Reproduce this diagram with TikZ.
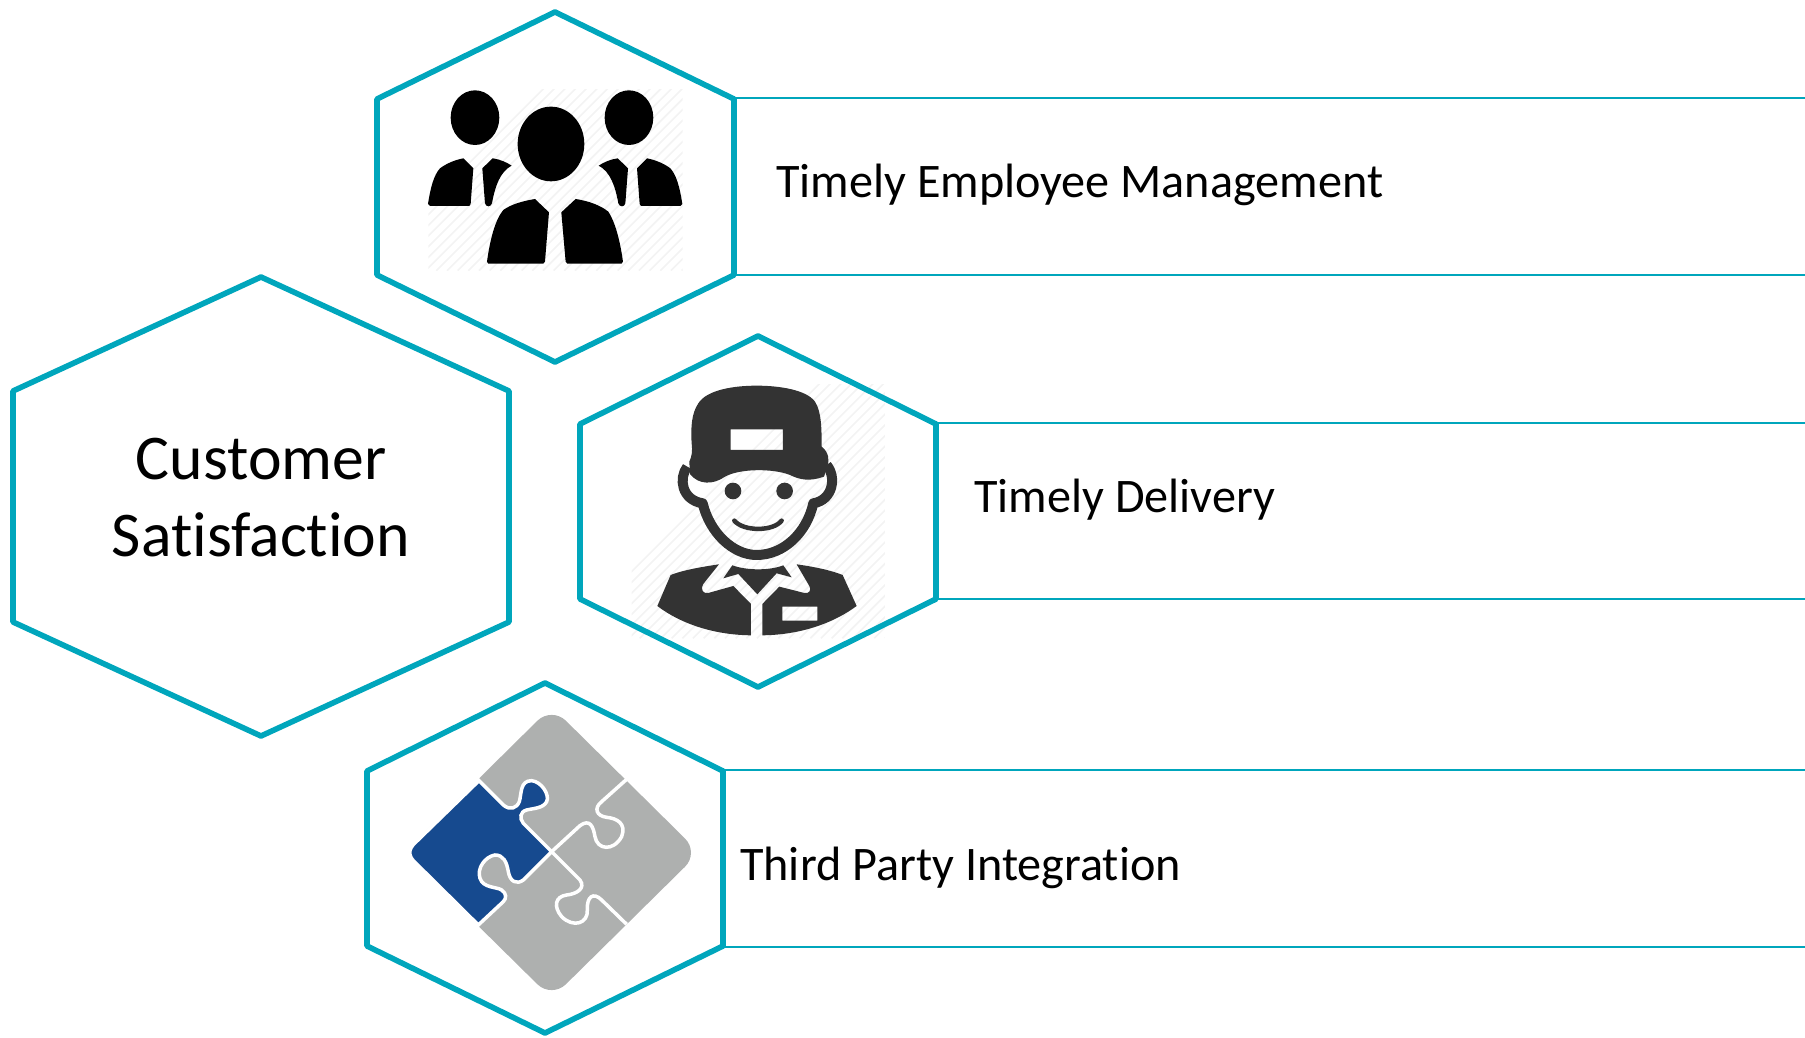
\documentclass[tikz,border=0pt]{standalone}
\usepackage{fontspec}
\setmainfont{Carlito}[Ligatures=NoCommon]
\definecolor{hexteal}{HTML}{00A6BC}
\definecolor{capgray}{HTML}{333333}
\definecolor{piecegray}{HTML}{AEB0AF}
\definecolor{pieceblue}{HTML}{164A8F}
\definecolor{hatchgray}{HTML}{F3F3F3}
\newcommand{\hatchbox}[4]{%
  \begin{scope}
    \clip (#1,#2) rectangle (#3,#4);
    \foreach \s in {0,32,...,1400} {
      \draw[hatchgray, line width=1.6pt] (#1-200+\s,#4) -- ++(800,-800);
    }
  \end{scope}}
\newcommand{\sidebody}{%
  \fill (204,612) .. controls (212,560) and (222,525) .. (240,505)
    .. controls (260,490) and (285,480) .. (310,475) -- (340,505) -- (332,612)
    -- (328,618) -- (210,618) -- cycle;
  \fill (367,505) -- (398,475) .. controls (420,478) and (440,487) .. (455,497)
    .. controls (420,515) and (405,560) .. (396,610)
    .. controls (392,622) and (378,622) .. (375,610) -- cycle;}
\begin{document}
\begin{tikzpicture}[x=1pt, y=-1pt,
    hexline/.style = {draw=hexteal, line width=5.6pt, line join=round},
    ruleline/.style = {draw=hexteal, line width=2pt},
    rowlabel/.style = {anchor=base west, inner sep=0pt, font=\fontsize{48.2}{50}\selectfont},
    iconpart/.style = {x=0.3333pt, y=-0.3333pt}]
  \useasboundingbox (0,0) rectangle (1805,1038);
  % people
  \begin{scope}[shift={(360,0)}, iconpart]
    \hatchbox{205}{268}{968}{812}
    \fill (345,353) ellipse [x radius=73, y radius=82];
    \fill (807,353) ellipse [x radius=73, y radius=82];
    \fill (573,432) ellipse [x radius=100, y radius=112];
    \sidebody
    \fill (381,785) .. controls (390,720) and (405,660) .. (430,630)
      .. controls (455,612) and (490,603) .. (525,597) -- (567,637) -- (555,785)
      -- (550,791) -- (385,791) -- cycle;
    \fill (604,637) -- (647,597) .. controls (685,603) and (720,615) .. (745,635)
      .. controls (765,665) and (780,720) .. (789,785) -- (785,791) -- (622,791)
      -- (617,785) -- cycle;
  \end{scope}
  \begin{scope}[shift={(750.33,0)}, iconpart, x=-0.3333pt]
    \sidebody
  \end{scope}
  % worker
  \begin{scope}[shift={(570,330)}, iconpart]
    \hatchbox{185}{165}{945}{925}
    \fill[capgray, even odd rule] (365,340) .. controls (362,290) and (365,250) .. (385,220)
      .. controls (410,180) and (490,167) .. (560,167)
      .. controls (630,167) and (710,180) .. (735,215)
      .. controls (755,245) and (755,300) .. (755,350)
      .. controls (775,365) and (780,390) .. (772,410) -- (762,440)
      .. controls (720,455) and (690,450) .. (660,435)
      .. controls (610,415) and (510,415) .. (465,440)
      .. controls (430,465) and (385,465) .. (360,432)
      -- (358,395) .. controls (365,380) and (368,365) .. (365,340) -- cycle
      (482,298) rectangle (639,360);
    \draw[capgray, line width=10pt, line join=round] (352,410) .. controls (325,445) and (335,510) .. (398,520)
      .. controls (420,610) and (490,675) .. (560,675)
      .. controls (640,675) and (710,610) .. (730,520)
      .. controls (790,510) and (800,440) .. (770,405);
    \fill[capgray] (489,483) circle [radius=25];
    \fill[capgray] (644,483) circle [radius=25];
    \draw[capgray, line width=4.5pt, line cap=round] (493,572) .. controls (520,605) and (610,605) .. (635,572);
    \fill[capgray] (262,828) -- (302,735) .. controls (340,720) and (400,710) .. (447,703)
      -- (400,762) .. controls (390,780) and (400,792) .. (415,789) -- (490,768)
      -- (543,822) -- (543,916) .. controls (430,915) and (330,880) .. (262,828) -- cycle;
    \fill[capgray, even odd rule] (577,916) -- (577,822) -- (628,770) -- (703,789)
      .. controls (718,792) and (725,780) .. (718,768) -- (680,703)
      .. controls (730,710) and (780,720) .. (818,735) -- (860,828)
      .. controls (790,880) and (690,915) .. (577,916) -- cycle
      (637,830) rectangle (742,872);
    \fill[capgray] (487,706) .. controls (530,722) and (600,722) .. (640,706) -- (665,742)
      -- (620,730) -- (562,793) -- (505,732) -- (460,745) -- cycle;
  \end{scope}
  % puzzle
  \begin{scope}[shift={(360,680)}, iconpart]
    \fill[piecegray, rounded corners=20pt] (575,80) -- (1018,518) -- (575,955) -- (132,518) -- cycle;
    \fill[white] (357,290) -- (140,518) -- (357,745) -- cycle;
    \draw[white, line width=3.5pt] (575,515) -- (660,437) .. controls (690,415) and (700,440) .. (705,470)
      .. controls (712,510) and (760,515) .. (785,470)
      .. controls (800,430) and (770,415) .. (740,412)
      .. controls (710,408) and (700,385) .. (725,365) -- (800,298);
    \draw[white, line width=3.5pt] (575,515) -- (660,600) .. controls (678,625) and (650,642) .. (620,645)
      .. controls (585,650) and (580,680) .. (605,710)
      .. controls (640,745) and (685,730) .. (682,690)
      .. controls (680,650) and (700,635) .. (725,660) -- (800,733);
    \draw[white, line width=3.5pt, fill=pieceblue] (357,302) -- (430,375) .. controls (450,392) and (470,385) .. (478,365)
      .. controls (485,340) and (480,302) .. (515,302)
      .. controls (545,305) and (570,345) .. (560,365)
      .. controls (550,385) and (520,385) .. (500,390)
      .. controls (480,395) and (478,415) .. (490,430) -- (575,515) -- (490,600)
      .. controls (470,615) and (450,605) .. (445,575)
      .. controls (440,545) and (430,525) .. (405,525)
      .. controls (375,530) and (350,565) .. (360,595)
      .. controls (370,625) and (410,620) .. (425,630)
      .. controls (440,640) and (440,655) .. (430,665) -- (355,735)
      -- (168,550) .. controls (143,528) and (143,508) .. (168,486) -- cycle;
  \end{scope}
  % hexagons
  \draw[hexline] (261,277) -- (509,391) -- (509,622) -- (261,736) -- (13,622) -- (13,391) -- cycle;
  \draw[hexline] (555,12) -- (734,99) -- (734,275) -- (555,362) -- (377,275) -- (377,99) -- cycle;
  \draw[hexline] (758,336) -- (936,424) -- (936,599) -- (758,687) -- (580,599) -- (580,424) -- cycle;
  \draw[hexline] (545,683) -- (723,771) -- (723,946) -- (545,1033) -- (367,946) -- (367,771) -- cycle;
  % rows
  \coordinate (a1) at (734,98);
  \coordinate (a2) at (1805,98);
  \coordinate (b1) at (734,275);
  \coordinate (b2) at (1805,275);
  \coordinate (c1) at (936,423);
  \coordinate (c2) at (1805,423);
  \coordinate (d1) at (936,599);
  \coordinate (d2) at (1805,599);
  \coordinate (e1) at (723,770);
  \coordinate (e2) at (1805,770);
  \coordinate (f1) at (723,947);
  \coordinate (f2) at (1805,947);
  \draw[ruleline] (a1) -- (a2);
  \draw[ruleline] (b1) -- (b2);
  \draw[ruleline] (c1) -- (c2);
  \draw[ruleline] (d1) -- (d2);
  \draw[ruleline] (e1) -- (e2);
  \draw[ruleline] (f1) -- (f2);
  % labels
  \node[inner sep=0pt, align=center, font=\fontsize{63.7}{77}\selectfont] (csat) at (261,498) {Customer\\Satisfaction};
  \node[rowlabel] (emp) at (776,197) {Timely Employee Management};
  \node[rowlabel] (del) at (974,512) {Timely Delivery};
  \node[rowlabel] (tpi) at (740,880) {Third Party Integration};
\end{tikzpicture}
\end{document}
